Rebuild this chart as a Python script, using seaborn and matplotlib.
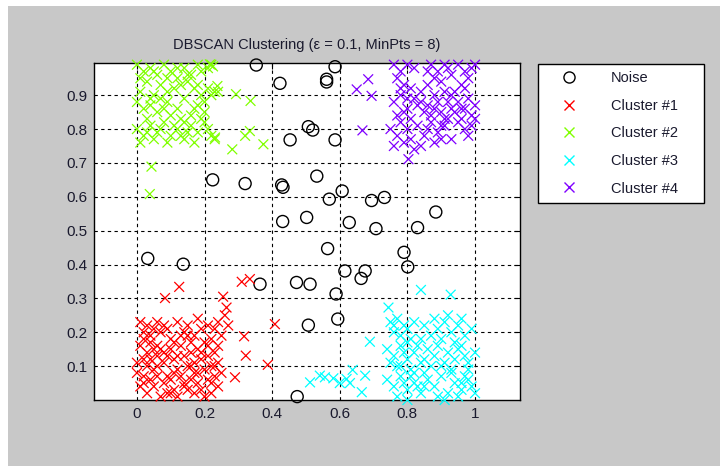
import numpy as np
import pandas as pd
import matplotlib
matplotlib.use("Agg")
import matplotlib.pyplot as plt
import seaborn as sns
from matplotlib.lines import Line2D

# Points (x, y)
noise_x = [0.353, 0.586, 0.423, 0.561, 0.561, 0.507, 0.520, 0.453, 0.586, 0.224, 0.320,
           0.428, 0.432, 0.532, 0.607, 0.569, 0.694, 0.732, 0.884, 0.431, 0.502, 0.628,
           0.707, 0.830, 0.032, 0.137, 0.564, 0.790, 0.801, 0.615, 0.675, 0.663, 0.364,
           0.472, 0.512, 0.589, 0.594, 0.507, 0.474]
noise_y = [0.989, 0.984, 0.935, 0.947, 0.939, 0.807, 0.797, 0.768, 0.768, 0.650, 0.639,
           0.635, 0.628, 0.661, 0.617, 0.593, 0.589, 0.598, 0.555, 0.527, 0.539, 0.524,
           0.506, 0.509, 0.418, 0.401, 0.447, 0.436, 0.393, 0.381, 0.381, 0.359, 0.342,
           0.347, 0.342, 0.313, 0.239, 0.221, 0.010]

c1_x = [0.01, 0.03, 0.05, 0.02, 0.06, 0.08, 0.04, 0.07, 0.12, 0.15, 0.18, 0.14, 0.17, 0.19,
        0.21, 0.23, 0.22, 0.24, 0.20, 0.25, 0.01, 0.03, 0.05, 0.02, 0.09, 0.10, 0.11, 0.13,
        0.14, 0.16, 0.18, 0.17, 0.19, 0.21, 0.23, 0.24, 0.22, 0.06, 0.08, 0.12, 0.15, 0.20,
        0.00, 0.02, 0.04, 0.06, 0.05, 0.08, 0.10, 0.11, 0.13, 0.14, 0.16, 0.18, 0.17, 0.19,
        0.21, 0.23, 0.24, 0.22, 0.09, 0.07, 0.03, 0.01, 0.12, 0.15, 0.20, 0.06, 0.04, 0.10,
        0.13, 0.09, 0.16, 0.03, 0.07, 0.18, 0.11, 0.25, 0.24, 0.02,
        0.02, 0.05, 0.08, 0.11, 0.14, 0.19, 0.22, 0.04, 0.09, 0.16, 0.21, 0.00, 0.12, 0.17,
        0.06, 0.23, 0.10, 0.15,
        0.125, 0.083, 0.310, 0.334, 0.255, 0.265, 0.408, 0.317, 0.322, 0.387, 0.290, 0.26, 0.27]
c1_y = [0.23, 0.22, 0.21, 0.20, 0.23, 0.22, 0.19, 0.20, 0.23, 0.22, 0.24, 0.20, 0.19, 0.21,
        0.22, 0.21, 0.18, 0.23, 0.17, 0.19, 0.16, 0.14, 0.15, 0.12, 0.13, 0.15, 0.12, 0.16,
        0.13, 0.14, 0.15, 0.11, 0.12, 0.13, 0.14, 0.11, 0.10, 0.10, 0.11, 0.09, 0.10, 0.09,
        0.08, 0.07, 0.06, 0.07, 0.04, 0.05, 0.06, 0.03, 0.07, 0.04, 0.06, 0.05, 0.02, 0.03,
        0.06, 0.07, 0.04, 0.02, 0.02, 0.01, 0.02, 0.04, 0.01, 0.03, 0.01, 0.13, 0.17, 0.18,
        0.19, 0.21, 0.17, 0.10, 0.15, 0.08, 0.08, 0.08, 0.16, 0.18,
        0.05, 0.09, 0.14, 0.17, 0.05, 0.14, 0.05, 0.12, 0.07, 0.10, 0.16, 0.11, 0.13, 0.08,
        0.16, 0.10, 0.02, 0.19,
        0.334, 0.301, 0.349, 0.357, 0.305, 0.273, 0.224, 0.188, 0.131, 0.104, 0.067, 0.25, 0.22]

c2_x = [0.00, 0.02, 0.04, 0.06, 0.08, 0.10, 0.12, 0.14, 0.16, 0.18, 0.13, 0.03, 0.07, 0.11,
        0.15, 0.17, 0.01, 0.05, 0.09, 0.19, 0.21, 0.22,
        0.00, 0.02, 0.04, 0.06, 0.09, 0.12, 0.14, 0.16, 0.18, 0.20, 0.22, 0.21, 0.23, 0.13,
        0.10, 0.03, 0.07, 0.19, 0.17,
        0.00, 0.02, 0.04, 0.06, 0.08, 0.10, 0.12, 0.14, 0.16, 0.18, 0.20, 0.22, 0.01, 0.05,
        0.09, 0.13, 0.17, 0.21, 0.23, 0.11, 0.03, 0.19, 0.15, 0.07,
        0.01, 0.05, 0.09, 0.12, 0.15, 0.18, 0.20, 0.08, 0.14, 0.04,
        0.043, 0.038, 0.238, 0.293, 0.336, 0.334, 0.320, 0.374, 0.282, 0.240, 0.231, 0.216, 0.225]
c2_y = [0.99, 0.97, 0.98, 0.96, 0.99, 0.97, 0.95, 0.98, 0.96, 0.99, 0.93, 0.94, 0.93, 0.92,
        0.94, 0.92, 0.91, 0.90, 0.95, 0.97, 0.98, 0.99,
        0.88, 0.86, 0.87, 0.85, 0.88, 0.86, 0.89, 0.84, 0.87, 0.85, 0.90, 0.92, 0.91, 0.83,
        0.84, 0.83, 0.89, 0.90, 0.86,
        0.80, 0.78, 0.81, 0.79, 0.82, 0.78, 0.80, 0.77, 0.81, 0.79, 0.82, 0.78, 0.76, 0.77,
        0.76, 0.78, 0.76, 0.80, 0.77, 0.81, 0.79, 0.83, 0.79, 0.80,
        0.95, 0.97, 0.91, 0.98, 0.96, 0.93, 0.88, 0.86, 0.82, 0.89,
        0.689, 0.608, 0.927, 0.903, 0.883, 0.794, 0.780, 0.755, 0.740, 0.910, 0.775, 0.991, 0.985]

c3_x = [0.75, 0.77, 0.79, 0.76, 0.78, 0.80, 0.82, 0.85, 0.87, 0.89, 0.91, 0.93, 0.95, 0.97,
        0.99, 0.84, 0.92, 0.96, 0.81, 0.88,
        0.74, 0.76, 0.78, 0.80, 0.82, 0.84, 0.86, 0.88, 0.90, 0.92, 0.94, 0.96, 0.98, 1.00,
        0.77, 0.81, 0.85, 0.89, 0.93, 0.97, 0.79, 0.83, 0.91, 0.95,
        0.74, 0.76, 0.78, 0.80, 0.82, 0.84, 0.86, 0.88, 0.90, 0.92, 0.94, 0.96, 0.98, 1.00,
        0.77, 0.81, 0.85, 0.89, 0.93, 0.97, 0.99, 0.79, 0.83, 0.91, 0.95,
        0.76, 0.78, 0.80, 0.82, 0.87, 0.94, 0.98, 0.85, 0.90, 0.96, 0.75, 0.80,
        0.840, 0.928, 0.744, 0.689, 0.512, 0.541, 0.556, 0.581, 0.620, 0.638, 0.675, 0.665,
        0.600, 0.630]
c3_y = [0.23, 0.24, 0.22, 0.20, 0.19, 0.21, 0.23, 0.22, 0.19, 0.21, 0.23, 0.20, 0.22, 0.19,
        0.21, 0.18, 0.25, 0.24, 0.18, 0.24,
        0.15, 0.13, 0.16, 0.12, 0.14, 0.11, 0.15, 0.13, 0.10, 0.14, 0.12, 0.16, 0.11, 0.14,
        0.10, 0.09, 0.12, 0.16, 0.09, 0.13, 0.14, 0.16, 0.11, 0.15,
        0.06, 0.04, 0.07, 0.03, 0.05, 0.02, 0.06, 0.04, 0.07, 0.02, 0.05, 0.03, 0.06, 0.02,
        0.01, 0.07, 0.08, 0.01, 0.08, 0.07, 0.04, 0.05, 0.04, 0.00, 0.01,
        0.22, 0.10, 0.17, 0.08, 0.10, 0.17, 0.09, 0.04, 0.18, 0.05, 0.11, 0.00,
        0.325, 0.311, 0.273, 0.172, 0.052, 0.072, 0.067, 0.064, 0.062, 0.089, 0.072, 0.023,
        0.050, 0.050]

c4_x = [0.76, 0.78, 0.80, 0.77, 0.82, 0.79, 0.87, 0.89, 0.91, 0.93, 0.95, 0.97, 0.99, 0.98,
        0.96, 0.90, 0.88, 0.92, 1.00, 0.86,
        0.76, 0.78, 0.80, 0.82, 0.84, 0.86, 0.88, 0.90, 0.92, 0.94, 0.96, 0.98, 1.00, 0.81,
        0.85, 0.89, 0.93, 0.97, 0.79, 0.83, 0.87, 0.91, 0.95, 0.99,
        0.75, 0.77, 0.79, 0.78, 0.80, 0.76, 0.81, 0.83, 0.85, 0.87, 0.89, 0.91, 0.93, 0.95,
        0.97, 0.99, 1.00, 0.84, 0.88, 0.92, 0.86, 0.82, 0.90, 0.96, 0.98,
        0.77, 0.81, 0.84, 0.88, 0.91, 0.94, 0.78, 0.86, 0.93, 0.97, 0.80, 0.90,
        0.650, 0.684, 0.694, 0.667, 0.803]
c4_y = [0.99, 0.97, 0.99, 0.95, 0.98, 0.93, 0.99, 0.97, 0.99, 0.96, 0.99, 0.97, 0.98, 0.95,
        0.93, 0.94, 0.95, 0.98, 0.99, 0.97,
        0.88, 0.90, 0.86, 0.89, 0.91, 0.87, 0.90, 0.85, 0.88, 0.91, 0.86, 0.89, 0.87, 0.92,
        0.85, 0.88, 0.86, 0.92, 0.85, 0.87, 0.84, 0.91, 0.88, 0.84,
        0.80, 0.78, 0.76, 0.82, 0.80, 0.75, 0.77, 0.81, 0.78, 0.82, 0.79, 0.81, 0.77, 0.82,
        0.80, 0.81, 0.83, 0.75, 0.76, 0.83, 0.80, 0.74, 0.77, 0.83, 0.78,
        0.84, 0.83, 0.88, 0.86, 0.83, 0.85, 0.92, 0.93, 0.90, 0.86, 0.89, 0.81,
        0.917, 0.947, 0.898, 0.796, 0.711]

cluster_names = ["Cluster #1", "Cluster #2", "Cluster #3", "Cluster #4"]
cluster_colors = ["#ff0000", "#80ff00", "#00ffff", "#8000ff"]

sns.set_theme(style="white")
plt.rcParams["font.family"] = ["Liberation Sans", "DejaVu Sans"]

noise = pd.DataFrame({"x": noise_x, "y": noise_y})
clusters = pd.concat([
    pd.DataFrame({"x": xs, "y": ys, "label": name})
    for xs, ys, name in zip([c1_x, c2_x, c3_x, c4_x], [c1_y, c2_y, c3_y, c4_y], cluster_names)
], ignore_index=True)

fig = plt.figure(figsize=(7.2, 4.66), dpi=100, facecolor="#c8c8c8")
# white strips along the top and left edges of the window capture
fig.patches.append(plt.Rectangle((0, 0), 8 / 720, 1, transform=fig.transFigure,
                                 facecolor="white", edgecolor="none", zorder=0))
fig.patches.append(plt.Rectangle((0, 1 - 6 / 466), 1, 6 / 466, transform=fig.transFigure,
                                 facecolor="white", edgecolor="none", zorder=0))
ax = fig.add_axes([94 / 720, 66 / 466, 426 / 720, 337 / 466])
ax.set_facecolor("white")

sns.scatterplot(data=noise, x="x", y="y", ax=ax, marker="o", s=75,
                facecolor="none", edgecolor="black", linewidth=1.0,
                clip_on=False, legend=False, zorder=3)
sns.scatterplot(data=clusters, x="x", y="y", hue="label", hue_order=cluster_names,
                palette=cluster_colors, ax=ax, marker="x", s=50, linewidth=0.9,
                clip_on=False, legend=False, zorder=3)

ax.set_xlim(-0.127, 1.133)
ax.set_ylim(0, 0.995)
ax.set_xticks([0, 0.2, 0.4, 0.6, 0.8, 1])
ax.set_xticklabels(["0", "0.2", "0.4", "0.6", "0.8", "1"])
ax.set_yticks([0.1, 0.2, 0.3, 0.4, 0.5, 0.6, 0.7, 0.8, 0.9])
ax.tick_params(direction="in", length=4, width=0.8, colors="black", labelsize=11,
               top=True, right=True, pad=5)
for lbl in ax.get_xticklabels() + ax.get_yticklabels():
    lbl.set_color("#1a1a2e")
ax.grid(True, color="black", linestyle=(0, (3, 3)), linewidth=0.8)
for s in ax.spines.values():
    s.set_color("black")
    s.set_linewidth(1.0)
ax.set_xlabel("")
ax.set_ylabel("")
ax.set_title("DBSCAN Clustering (\u03b5 = 0.1, MinPts = 8)", fontsize=10.5, color="#1a1a2e", pad=10)

handles = [Line2D([], [], linestyle="none", marker="o", markerfacecolor="none",
                  markeredgecolor="black", markersize=8, label="Noise")]
for name, col in zip(cluster_names, cluster_colors):
    handles.append(Line2D([], [], linestyle="none", marker="x", color=col,
                          markersize=7, label=name))
leg = fig.legend(handles=handles, loc="upper left", bbox_to_anchor=(538 / 720, 1 - 64 / 466, 166 / 720, 0),
                 mode="expand", frameon=True, fancybox=False, framealpha=1,
                 edgecolor="black", fontsize=10.5, labelspacing=0.93,
                 handlelength=3.2, handletextpad=1.3, borderpad=0.5, borderaxespad=0)
leg.get_frame().set_linewidth(1.0)
for t in leg.get_texts():
    t.set_color("#1a1a2e")

fig.savefig("out.png", dpi=100, facecolor=fig.get_facecolor())
